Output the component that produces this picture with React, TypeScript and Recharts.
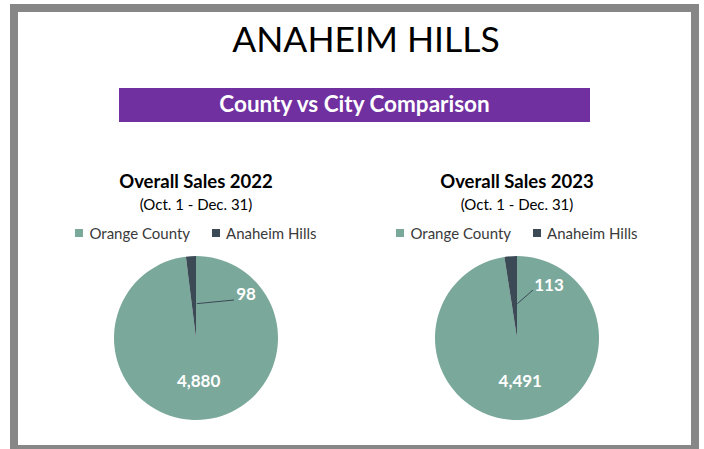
import React from "react";
import { PieChart, Pie, Cell, Legend } from "recharts";

const categories = ["Orange County", "Anaheim Hills"];
const sales2022 = [4880, 98];
const sales2023 = [4491, 113];
const chartTitles = ["Overall Sales 2022", "Overall Sales 2023"];
const periodLabel = "(Oct. 1 - Dec. 31)";

const COLORS = ["#7aa89b", "#3c4a56"];
const FONT = "Lato, 'Open Sans', sans-serif";
const RADIAN = Math.PI / 180;

const toRows = (values: number[]) =>
    categories.map((name, i) => ({ name, value: values[i] }));

interface SalesPieProps {
    title: string;
    values: number[];
    left: number;
    smallLabel: { lx: number; ly: number; tx: number; ty: number };
}

function SalesPie({ title, values, left, smallLabel }: SalesPieProps) {
    const data = toRows(values);

    const renderLabel = (props: any) => {
        const { cx, cy, midAngle, outerRadius, index, value } = props;
        const text = value.toLocaleString("en-US");
        if (index === 0) {
            const r = outerRadius * 0.52;
            const x = cx + r * Math.cos(-midAngle * RADIAN);
            const y = cy + r * Math.sin(-midAngle * RADIAN);
            return (
                <text x={x} y={y} fill="#fff" fontSize={17} fontWeight={700} fontFamily={FONT} textAnchor="middle" dominantBaseline="central">
                    {text}
                </text>
            );
        }
        // leader line from inside the thin slice out to the label
        const r0 = outerRadius * 0.42;
        const sx = cx + r0 * Math.cos(-midAngle * RADIAN) + 3;
        const sy = cy + r0 * Math.sin(-midAngle * RADIAN);
        return (
            <g>
                <line x1={sx} y1={sy} x2={cx + smallLabel.lx} y2={cy + smallLabel.ly} stroke="#3c4a56" strokeWidth={1} />
                <text x={cx + smallLabel.tx} y={cy + smallLabel.ty} fill="#fff" fontSize={17} fontWeight={700} fontFamily={FONT} textAnchor="middle" dominantBaseline="central">
                    {text}
                </text>
            </g>
        );
    };

    const renderLegend = () => (
        <div style={{ display: "flex", justifyContent: "center", gap: 22, fontFamily: FONT, fontSize: 15, color: "#3a3a3a", height: 20 }}>
            {data.map((d, i) => (
                <span key={d.name} style={{ display: "flex", alignItems: "center" }}>
                    <span style={{ display: "inline-block", width: 8, height: 8, background: COLORS[i], marginRight: 6 }} />
                    {d.name}
                </span>
            ))}
        </div>
    );

    return (
        <div style={{ position: "absolute", left, top: 160, width: 320, height: 280 }}>
            <div style={{ position: "absolute", top: 10, width: 320, textAlign: "center", fontFamily: FONT, fontWeight: 700, fontSize: 18.5, color: "#000" }}>
                {title}
            </div>
            <div style={{ position: "absolute", top: 35, width: 320, textAlign: "center", fontFamily: FONT, fontSize: 15, color: "#000" }}>
                {periodLabel}
            </div>
            <PieChart width={320} height={280} margin={{ top: 0, right: 0, bottom: 0, left: 0 }}>
                <Legend content={renderLegend} verticalAlign="bottom" wrapperStyle={{ top: 63, left: 0, width: 320, height: 20 }} />
                <Pie
                    data={data}
                    dataKey="value"
                    nameKey="name"
                    cx={160}
                    cy={178}
                    outerRadius={82}
                    startAngle={90}
                    endAngle={-270}
                    stroke="none"
                    label={renderLabel}
                    labelLine={false}
                    isAnimationActive={false}
                >
                    {data.map((d, i) => (
                        <Cell key={d.name} fill={COLORS[i]} />
                    ))}
                </Pie>
            </PieChart>
        </div>
    );
}

export default function App() {
    return (
        <div style={{ position: "absolute", left: 0, top: 0, width: 704, height: 449, background: "#fff", overflow: "hidden" }}>
            <div style={{ position: "absolute", left: 10, top: 4, width: 689, height: 449, boxSizing: "border-box", border: "8px solid #878787" }} />
            <div style={{ position: "absolute", left: 0, top: 17, width: 732, textAlign: "center", fontFamily: FONT, fontSize: 35.5, color: "#000" }}>
                ANAHEIM HILLS
            </div>
            <div style={{ position: "absolute", left: 119, top: 88, width: 471, height: 34, background: "#7030a0", color: "#fff", fontFamily: FONT, fontWeight: 700, fontSize: 22.5, textAlign: "center", lineHeight: "32px" }}>
                County vs City Comparison
            </div>
            <SalesPie title={chartTitles[0]} values={sales2022} left={36} smallLabel={{ lx: 38, ly: -38, tx: 50, ty: -45 }} />
            <SalesPie title={chartTitles[1]} values={sales2023} left={357} smallLabel={{ lx: 16, ly: -48, tx: 32, ty: -54 }} />
        </div>
    );
}
